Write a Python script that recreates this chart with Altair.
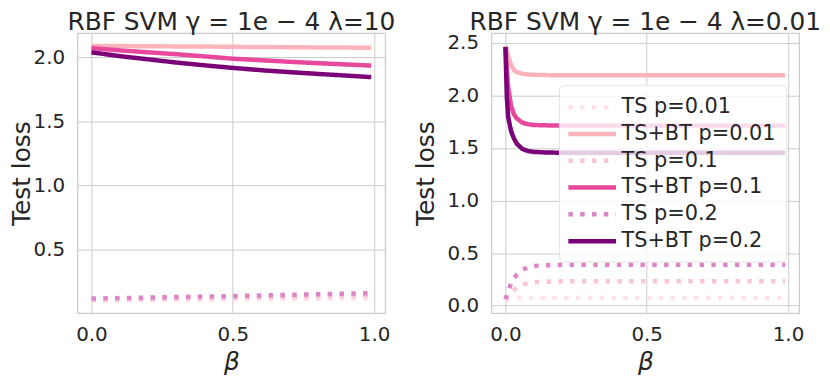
import altair as alt
import pandas as pd

series_names = ["TS p=0.01", "TS+BT p=0.01", "TS p=0.1", "TS+BT p=0.1", "TS p=0.2", "TS+BT p=0.2"]
series_colors = ["#fde2e6", "#fbb4bc", "#fac4d6", "#e7489b", "#dd86c6", "#7a0177"]
dotted = [4.5, 7.4]
solid = [1, 0]
series_dashes = [dotted, solid, dotted, solid, dotted, solid]

# Left panel: lambda = 10
left_beta = [0.0, 0.1, 0.2, 0.3, 0.4, 0.5, 0.6, 0.7, 0.8, 0.9, 0.99]
left_ts_001 = [0.100, 0.101, 0.103, 0.104, 0.106, 0.107, 0.109, 0.110, 0.112, 0.113, 0.115]
left_tsbt_001 = [2.090, 2.089, 2.087, 2.086, 2.085, 2.083, 2.081, 2.080, 2.078, 2.077, 2.075]
left_ts_01 = [0.105, 0.108, 0.111, 0.115, 0.118, 0.122, 0.126, 0.129, 0.133, 0.137, 0.140]
left_tsbt_01 = [2.073, 2.055, 2.040, 2.025, 2.008, 1.990, 1.978, 1.966, 1.955, 1.945, 1.936]
left_ts_02 = [0.114, 0.118, 0.122, 0.126, 0.130, 0.134, 0.139, 0.143, 0.148, 0.153, 0.157]
left_tsbt_02 = [2.040, 2.010, 1.985, 1.960, 1.938, 1.918, 1.900, 1.885, 1.871, 1.858, 1.846]

# Right panel: lambda = 0.01
right_beta = [0.0, 0.005, 0.01, 0.02, 0.03, 0.04, 0.06, 0.08, 0.1, 0.15, 0.2, 0.3, 0.5, 0.7, 0.99]
right_ts_001 = [0.050, 0.056, 0.060, 0.065, 0.069, 0.072, 0.073, 0.074, 0.074, 0.074, 0.074, 0.074, 0.074, 0.074, 0.074]
right_tsbt_001 = [2.470, 2.430, 2.370, 2.290, 2.240, 2.220, 2.205, 2.198, 2.195, 2.192, 2.190, 2.190, 2.190, 2.190, 2.190]
right_ts_01 = [0.060, 0.080, 0.100, 0.130, 0.150, 0.170, 0.200, 0.215, 0.222, 0.228, 0.231, 0.231, 0.231, 0.231, 0.231]
right_tsbt_01 = [2.460, 2.250, 2.070, 1.900, 1.820, 1.780, 1.740, 1.725, 1.718, 1.714, 1.712, 1.712, 1.712, 1.712, 1.712]
right_ts_02 = [0.060, 0.100, 0.140, 0.210, 0.260, 0.295, 0.340, 0.365, 0.378, 0.385, 0.388, 0.388, 0.388, 0.388, 0.388]
right_tsbt_02 = [2.460, 1.980, 1.790, 1.660, 1.590, 1.540, 1.490, 1.470, 1.462, 1.456, 1.454, 1.454, 1.454, 1.454, 1.454]

left_titles = "RBF SVM γ = 1e − 4 λ=10"
right_titles = "RBF SVM γ = 1e − 4 λ=0.01"
x_ticks = [0.0, 0.5, 1.0]
left_y_ticks = [0.5, 1.0, 1.5, 2.0]
right_y_ticks = [0.0, 0.5, 1.0, 1.5, 2.0, 2.5]


def to_long(beta, columns):
    rows = []
    for name, vals in zip(series_names, columns):
        for b, v in zip(beta, vals):
            rows.append({"beta": b, "loss": v, "series": name})
    return pd.DataFrame(rows)


left_df = to_long(left_beta, [left_ts_001, left_tsbt_001, left_ts_01, left_tsbt_01, left_ts_02, left_tsbt_02])
right_df = to_long(right_beta, [right_ts_001, right_tsbt_001, right_ts_01, right_tsbt_01, right_ts_02, right_tsbt_02])

color_scale = alt.Scale(domain=series_names, range=series_colors)
dash_scale = alt.Scale(domain=series_names, range=series_dashes)


def panel(df, title, y_domain, y_ticks, y_title_pad, legend):
    x = alt.X("beta:Q", title="β",
              scale=alt.Scale(domain=[-0.0495, 1.0395], nice=False, zero=False),
              axis=alt.Axis(values=x_ticks, format=".1f", titleFontStyle="italic",
                            labelPadding=12, titlePadding=5))
    y = alt.Y("loss:Q", title="Test loss",
              scale=alt.Scale(domain=y_domain, nice=False, zero=False),
              axis=alt.Axis(values=y_ticks, format=".1f", labelPadding=13,
                            titlePadding=y_title_pad))
    if legend is None:
        color = alt.Color("series:N", scale=color_scale, legend=None)
        dash = alt.StrokeDash("series:N", scale=dash_scale, legend=None)
    else:
        color = alt.Color("series:N", scale=color_scale, legend=legend)
        dash = alt.StrokeDash("series:N", scale=dash_scale, legend=legend)
    return alt.Chart(df).mark_line(strokeWidth=4.5, strokeCap="butt").encode(
        x=x, y=y, color=color, strokeDash=dash, detail="series:N"
    ).properties(
        width=310, height=282,
        title=alt.TitleParams(title, anchor="middle", offset=-2),
    )


legend = alt.Legend(
    orient="none", legendX=68, legendY=52, title=None,
    symbolType="M-1.3,0L3.5,0", symbolSize=400, symbolStrokeWidth=4.5,
    labelFontSize=21, labelOffset=28, rowPadding=4, padding=10,
    fillColor="rgba(255,255,255,0.8)", strokeColor="#e3e3e3", cornerRadius=5,
    labelFont="DejaVu Sans", labelColor="#262626", labelLimit=400,
)

left = panel(left_df, left_titles, [0.0005, 2.1895], left_y_ticks, -1, None)
right = panel(right_df, right_titles, [-0.071, 2.591], right_y_ticks, 9, legend)

chart = alt.hconcat(left, right, spacing=16).resolve_scale(
    x="independent", y="independent", color="independent", strokeDash="independent"
).resolve_legend(color="independent", strokeDash="independent").configure(
    padding=0, background="white"
).configure_view(
    stroke="#cccccc", strokeWidth=1.25
).configure_axis(
    grid=True, gridColor="#cccccc", gridWidth=1, domain=False, ticks=False,
    labelFont="DejaVu Sans", labelFontSize=20, labelColor="#262626",
    titleFont="DejaVu Sans", titleFontSize=25, titleFontWeight="normal", titleColor="#262626",
).configure_title(
    font="DejaVu Sans", fontSize=25, fontWeight="normal", color="#262626"
)

chart.save("out.html", embed_options={"renderer": "svg", "actions": False})
